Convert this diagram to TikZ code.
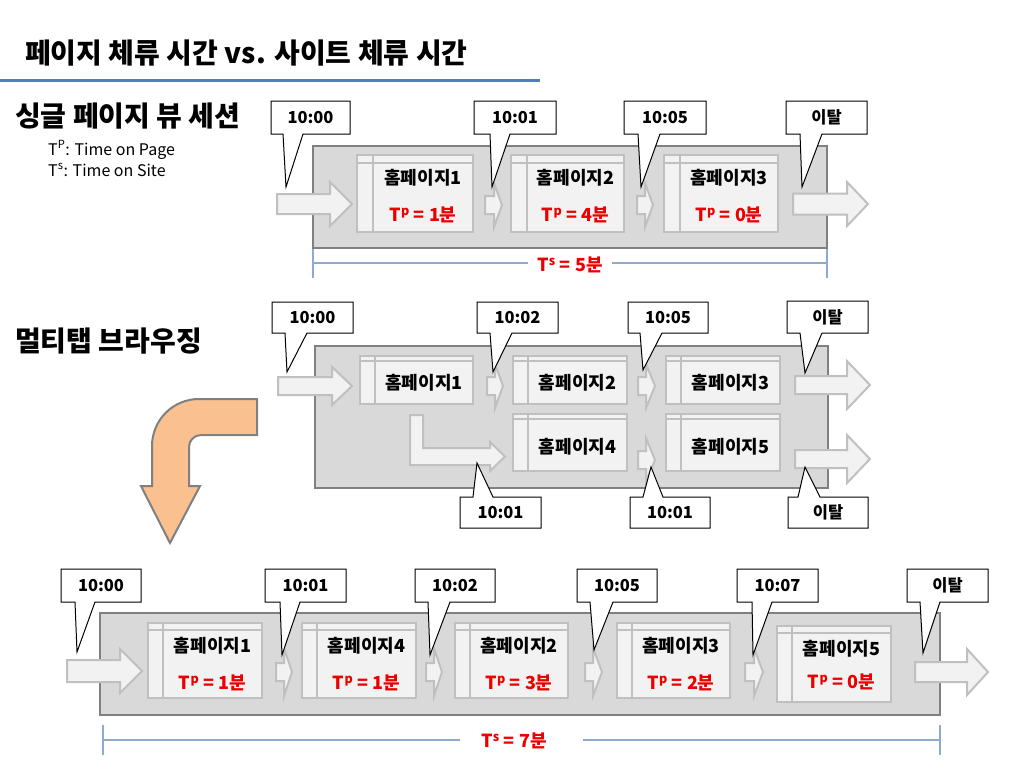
\documentclass[tikz,border=0pt]{standalone}
\usepackage{fontspec}
\setmainfont{Noto Sans CJK KR}
\definecolor{boxfill}{HTML}{D9D9D9}
\definecolor{boxdraw}{HTML}{808080}
\definecolor{pfill}{HTML}{F2F2F2}
\definecolor{pdraw}{HTML}{C0C0C0}
\definecolor{orfill}{HTML}{FAC090}
\definecolor{tred}{RGB}{235,0,0}
\definecolor{tline}{HTML}{4F7EBB}
\definecolor{tsline}{HTML}{8FAACC}
\tikzset{
  bigbox/.style={fill=boxfill,draw=boxdraw,line width=2.6pt},
  panelsty/.style={fill=pfill,draw=pdraw,line width=2.4pt},
  panelline/.style={draw=pdraw,line width=2pt},
  arrsty/.style={fill=pfill,draw=pdraw,line width=2pt,line join=miter},
  callsty/.style={fill=white,draw=black,line width=1pt,line join=miter},
  ctext/.style={inner sep=0pt,font=\fontsize{16.5}{18}\selectfont\bfseries},
  ptext/.style={inner sep=0pt,font=\fontsize{18}{20}\selectfont\bfseries},
  rtext/.style={inner sep=0pt,text=tred,font=\fontsize{18}{20}\selectfont\bfseries},
  heading/.style={inner sep=0pt,anchor=west,font=\fontsize{28}{30}\selectfont\bfseries},
  legend/.style={inner sep=0pt,anchor=west,font=\fontsize{16}{18}\selectfont},
  tsl/.style={draw=tsline,line width=1.1pt},
  orarrow/.style={fill=orfill,draw=boxdraw,line width=2pt,line join=miter}
}
% callout pointing down: name, x1,y1,x2,y2, base-left, base-right, tip, text
\newcommand\calldn[9]{%
  \coordinate (#1p) at (#8);
  \draw[callsty] (#2,#3) -- (#4,#3) -- (#4,#5) -- (#7,#5) -- (#1p) -- (#6,#5) -- (#2,#5) -- cycle;
  \node[ctext] (#1) at ({(#2+#4)/2},{(#3+#5)/2}) {#9};}
% callout pointing up
\newcommand\callup[9]{%
  \coordinate (#1p) at (#8);
  \draw[callsty] (#2,#3) -- (#6,#3) -- (#1p) -- (#7,#3) -- (#4,#3) -- (#4,#5) -- (#2,#5) -- cycle;
  \node[ctext] (#1) at ({(#2+#4)/2},{(#3+#5)/2}) {#9};}
% panel: name, x1,y1,x2,y2, header, column
\newcommand\pnl[7]{%
  \draw[panelsty] (#2,#3) rectangle (#4,#5);
  \draw[panelline] ({#2+#7},#3) -- ({#2+#7},#5);
  \draw[panelline] (#2,{#3+#6}) -- (#4,{#3+#6});
  \coordinate (#1) at ({(#2+#7+#4)/2},{(#3+#5)/2});}
% block arrow: x1, cy, xhead, xtip, shaft half, head half
\newcommand\blockarr[6]{%
  \draw[arrsty] (#1,{#2-#5}) -- (#3,{#2-#5}) -- (#3,{#2-#6}) -- (#4,#2) -- (#3,{#2+#6}) -- (#3,{#2+#5}) -- (#1,{#2+#5}) -- cycle;}
\newcommand\tp[1]{T\textsuperscript{p} = #1분}
\begin{document}
\begin{tikzpicture}[x=1pt,y=-1pt]
\useasboundingbox (0,0) rectangle (1024,768);

% title
\node[heading] (title) at (25,53) {페이지 체류 시간 vs. 사이트 체류 시간};
\coordinate (tl1) at (0,80); \coordinate (tl2) at (540,80);
\draw[draw=tline,line width=3pt] (tl1) -- (tl2);

\node[heading] (h1) at (15,116) {싱글 페이지 뷰 세션};
\node[legend] (lg1) at (48,150) {T\textsuperscript{P}: Time on Page};
\node[legend] (lg2) at (48,170) {T\textsuperscript{s}: Time on Site};
\node[heading] (h2) at (15,341) {멀티탭 브라우징};

% ===== section 1 =====
\draw[bigbox] (313,146) rectangle (827,248);
\blockarr{277}{204}{330}{352}{10}{22}
\blockarr{485}{205}{494}{502}{9}{22}
\blockarr{637}{205}{645}{653}{9}{22}
\blockarr{793}{204}{847}{868}{10.5}{22}
\pnl{a1}{357}{155}{473}{232}{8}{16}
\pnl{a2}{511}{155}{624}{232}{8}{16}
\pnl{a3}{664}{155}{778}{232}{8}{16}
\node[ptext] (a1t) at (a1 |- 0,178) {홈페이지1};
\node[ptext] (a2t) at (a2 |- 0,178) {홈페이지2};
\node[ptext] (a3t) at (a3 |- 0,178) {홈페이지3};
\node[rtext] (a1r) at (a1 |- 0,215) {\tp{1}};
\node[rtext] (a2r) at (a2 |- 0,215) {\tp{4}};
\node[rtext] (a3r) at (a3 |- 0,215) {\tp{0}};
\calldn{c1}{271}{101}{350}{134}{283}{303}{286,187}{10:00}
\calldn{c2}{474}{101}{556}{134}{490}{510}{492,187}{10:01}
\calldn{c3}{624}{101}{706}{134}{638}{660}{641,187}{10:05}
\calldn{c4}{786}{101}{867}{134}{800}{822}{802,187}{이탈}
% Ts
\coordinate (s1a) at (313,263); \coordinate (s1b) at (528,263);
\coordinate (s1c) at (612,263); \coordinate (s1d) at (827,263);
\draw[tsl] (s1a) -- (s1b); \draw[tsl] (s1c) -- (s1d);
\draw[tsl] (313,249) -- (313,278); \draw[tsl] (827,249) -- (827,278);
\node[rtext] (s1t) at (570,265) {T\textsuperscript{s} = 5분};

% ===== section 2 =====
\draw[bigbox] (315,346) rectangle (828,488);
\blockarr{278}{386}{332}{352}{9}{19}
\blockarr{487}{386}{495}{503}{9}{22}
\blockarr{638}{386}{646}{655}{9}{22}
\blockarr{638}{460}{646}{655}{9}{22}
\blockarr{795}{385}{847}{870}{9}{24}
\blockarr{795}{459}{847}{870}{9}{24}
\draw[arrsty] (410,415) -- (423,415) -- (423,448) -- (490,448) -- (490,442) -- (505,456.5) -- (490,471) -- (490,465) -- (410,465) -- cycle;
\pnl{b1}{360}{356}{473}{404}{5}{15}
\pnl{b2}{513}{356}{627}{404}{5}{15}
\pnl{b3}{666}{356}{780}{404}{5}{15}
\pnl{b4}{513}{414}{627}{471}{5}{15}
\pnl{b5}{666}{414}{780}{471}{5}{15}
\node[ptext] (b1t) at (b1 |- 0,383) {홈페이지1};
\node[ptext] (b2t) at (b2 |- 0,383) {홈페이지2};
\node[ptext] (b3t) at (b3 |- 0,383) {홈페이지3};
\node[ptext] (b4t) at (b4 |- 0,447) {홈페이지4};
\node[ptext] (b5t) at (b5 |- 0,447) {홈페이지5};
\calldn{d1}{272}{302}{353}{333}{285}{307}{287,372}{10:00}
\calldn{d2}{477}{302}{558}{333}{490}{512}{493,372}{10:02}
\calldn{d3}{628}{302}{708}{333}{640}{662}{643,370}{10:05}
\calldn{d4}{787}{301}{868}{333}{800}{822}{805,373}{이탈}
\callup{d5}{460}{497}{541}{528}{473}{493}{477,463}{10:01}
\callup{d6}{630}{497}{710}{528}{643}{663}{651,467}{10:01}
\callup{d7}{788}{497}{868}{528}{798}{820}{805,467}{이탈}

% orange bent arrow
\draw[orarrow] (257,399) -- (257,435) -- (201,435)
  .. controls (194.4,435) and (189,440.4) .. (189,447)
  -- (189,486) -- (200,486) -- (170,543) -- (141,486) -- (152,486) -- (152,446)
  .. controls (152,420) and (173,399) .. (199,399) -- cycle;

% ===== section 3 =====
\draw[bigbox] (100,613) rectangle (940,715);
\blockarr{67}{671}{120}{142}{11}{22}
\blockarr{276}{672}{284}{292}{9}{24}
\blockarr{426}{672}{434}{442}{9}{24}
\blockarr{585}{672}{593}{602}{9}{24}
\blockarr{745}{672}{754}{763}{9}{24}
\blockarr{915}{672}{967}{988}{10}{23}
\pnl{e1}{148}{623}{262}{698}{7}{15}
\pnl{e2}{302}{623}{416}{698}{7}{15}
\pnl{e3}{455}{623}{568}{698}{7}{15}
\pnl{e4}{617}{623}{730}{698}{7}{15}
\pnl{e5}{777}{626}{891}{702}{7}{15}
\node[ptext] (e1t) at (e1 |- 0,646) {홈페이지1};
\node[ptext] (e2t) at (e2 |- 0,646) {홈페이지4};
\node[ptext] (e3t) at (e3 |- 0,646) {홈페이지2};
\node[ptext] (e4t) at (e4 |- 0,646) {홈페이지3};
\node[ptext] (e5t) at (e5 |- 0,649) {홈페이지5};
\node[rtext] (e1r) at (e1 |- 0,683) {\tp{1}};
\node[rtext] (e2r) at (e2 |- 0,683) {\tp{1}};
\node[rtext] (e3r) at (e3 |- 0,683) {\tp{3}};
\node[rtext] (e4r) at (e4 |- 0,683) {\tp{2}};
\node[rtext] (e5r) at (e5 |- 0,682) {\tp{0}};
\calldn{f1}{61}{569}{141}{602}{75}{95}{77,652}{10:00}
\calldn{f2}{265}{569}{346}{602}{280}{300}{282,655}{10:01}
\calldn{f3}{415}{569}{495}{602}{428}{450}{430,655}{10:02}
\calldn{f4}{577}{569}{657}{602}{590}{613}{594,650}{10:05}
\calldn{f5}{737}{569}{818}{602}{752}{772}{753,655}{10:07}
\calldn{f6}{907}{569}{988}{602}{920}{940}{923,653}{이탈}
% Ts
\coordinate (s3a) at (103,740); \coordinate (s3b) at (460,740);
\coordinate (s3c) at (583,740); \coordinate (s3d) at (940,740);
\draw[tsl] (s3a) -- (s3b); \draw[tsl] (s3c) -- (s3d);
\draw[tsl] (103,725) -- (103,755); \draw[tsl] (940,725) -- (940,755);
\node[rtext] (s3t) at (514,741) {T\textsuperscript{s} = 7분};
\end{tikzpicture}
\end{document}
